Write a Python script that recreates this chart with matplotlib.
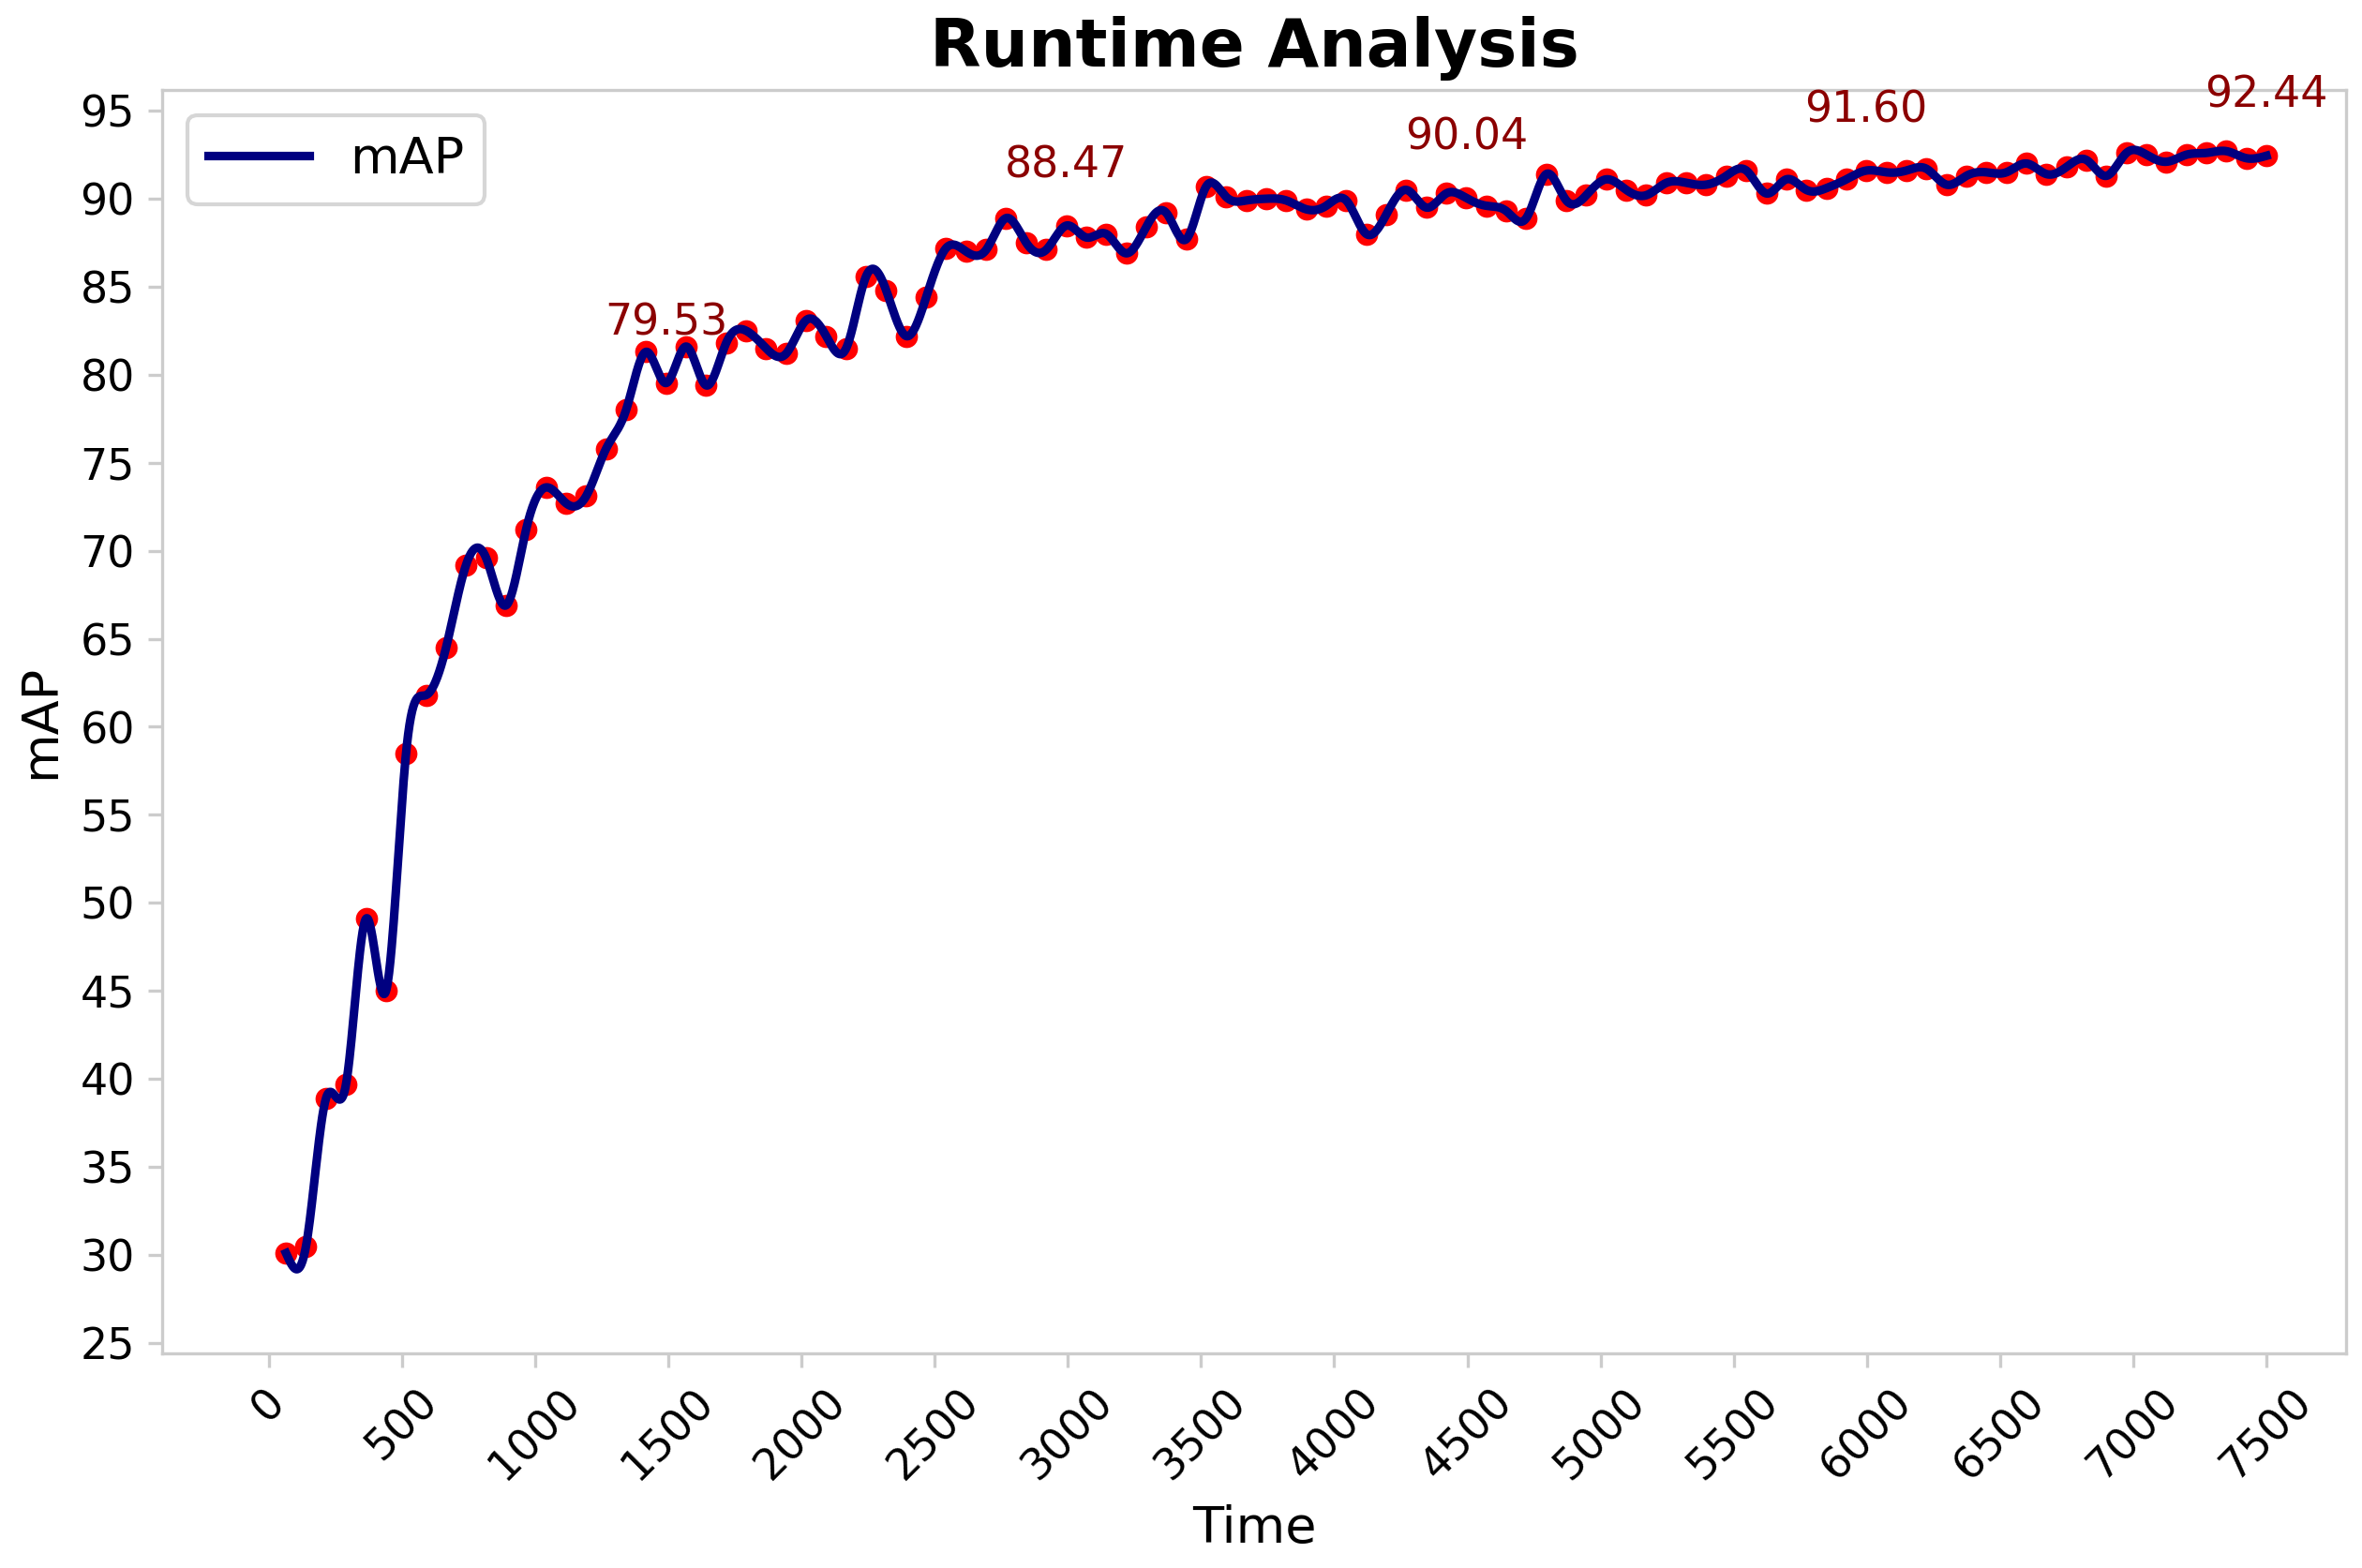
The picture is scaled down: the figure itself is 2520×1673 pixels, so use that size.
import numpy as np
import matplotlib
matplotlib.use("Agg")
import matplotlib.pyplot as plt

time = np.linspace(65, 7500, 100)
mAP = [30.1,30.5,38.9,39.7,49.1,45.0,58.5,61.8,64.5,69.2,
       69.6,66.9,71.2,73.6,72.7,73.1,75.8,78.0,81.3,79.53,
       81.6,79.4,81.8,82.5,81.5,81.2,83.1,82.2,81.5,85.6,
       84.8,82.2,84.4,87.2,87.0,87.1,88.9,87.5,87.1,88.47,
       87.8,88.0,86.9,88.4,89.2,87.7,90.7,90.1,89.9,90.0,
       89.9,89.4,89.6,89.9,88.0,89.1,90.5,89.5,90.3,90.04,
       89.6,89.3,88.9,91.4,89.9,90.2,91.1,90.5,90.2,90.9,
       90.9,90.8,91.3,91.6,90.3,91.1,90.5,90.6,91.1,91.60,
       91.5,91.6,91.7,90.8,91.3,91.5,91.5,92.0,91.4,91.8,
       92.2,91.3,92.6,92.5,92.1,92.5,92.6,92.7,92.3,92.44]
label_idx = [19, 39, 59, 79, 99]

def natural_spline(x, y, xs):
    x = np.asarray(x, float); y = np.asarray(y, float)
    n = len(x); h = np.diff(x)
    A = np.zeros((n, n)); b = np.zeros(n)
    A[0, 0] = A[-1, -1] = 1
    for i in range(1, n - 1):
        A[i, i-1] = h[i-1]; A[i, i] = 2*(h[i-1]+h[i]); A[i, i+1] = h[i]
        b[i] = 3*((y[i+1]-y[i])/h[i] - (y[i]-y[i-1])/h[i-1])
    c = np.linalg.solve(A, b)
    bb = (y[1:]-y[:-1])/h - h*(2*c[:-1]+c[1:])/3
    d = (c[1:]-c[:-1])/(3*h)
    k = np.clip(np.searchsorted(x, xs) - 1, 0, n-2)
    dx = xs - x[k]
    return y[k] + bb[k]*dx + c[k]*dx**2 + d[k]*dx**3

xs = np.linspace(time[0], time[-1], 3000)
ys = natural_spline(time, mAP, xs)

fig, ax = plt.subplots(figsize=(8.4, 5.577), dpi=300)
ax.scatter(time, mAP, color='red', s=22, zorder=2)
ax.plot(xs, ys, color='navy', lw=2.2, label='mAP', zorder=3)
for i in label_idx:
    ax.annotate(f"{mAP[i]:.2f}", (time[i], mAP[i]), xytext=(0, 10),
                textcoords='offset points', ha='center', va='bottom',
                color='darkred', fontsize=11)
ax.set_title('Runtime Analysis', fontsize=17, fontweight='bold')
ax.set_xlabel('Time', fontsize=13)
ax.set_ylabel('mAP', fontsize=13)
ax.set_xticks(np.arange(0, 7501, 500))
ax.set_yticks(np.arange(25, 96, 5))
ax.set_ylim(24.4, 96.2)
ax.set_xlim(-400, 7800)
plt.setp(ax.get_xticklabels(), rotation=45)
ax.tick_params(labelsize=11, color='#cccccc')
for s in ax.spines.values():
    s.set_color('#cccccc')
ax.legend(loc='upper left', fontsize=13)
fig.tight_layout(pad=0.4)
fig.savefig('out.png')
